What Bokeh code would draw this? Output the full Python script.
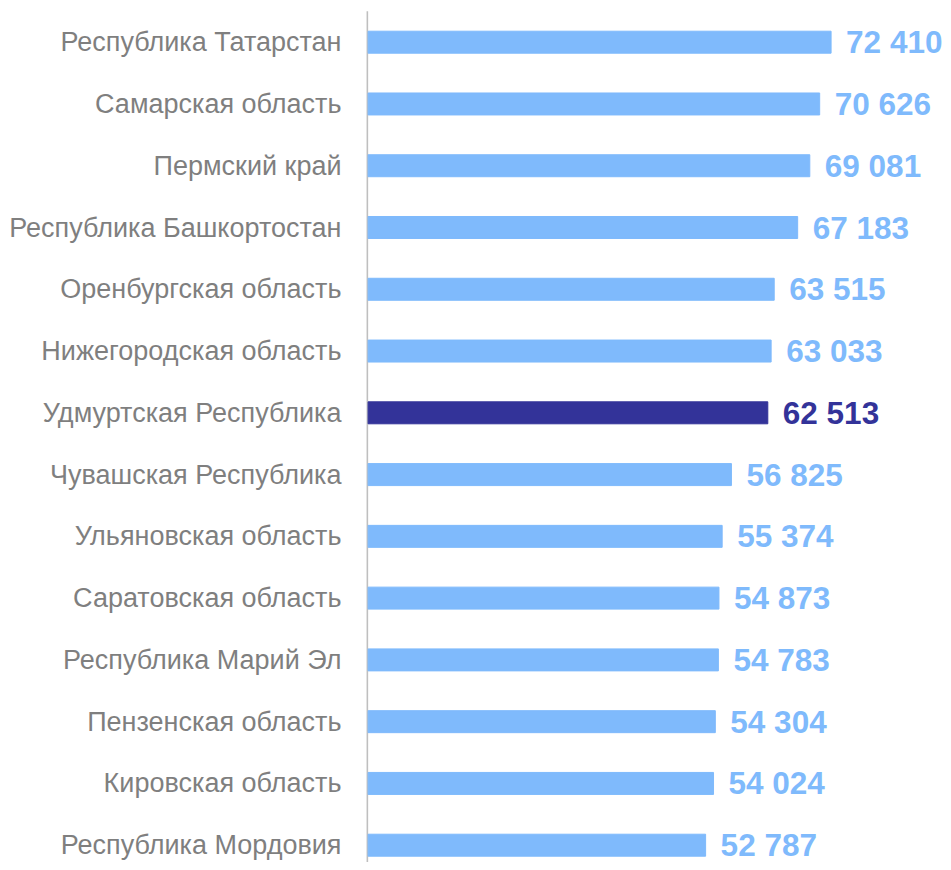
from bokeh.plotting import figure
from bokeh.models import Range1d, FixedTicker, ColumnDataSource
from bokeh.core.properties import value
from bokeh.embed import file_html
from bokeh.resources import INLINE

regions = [
    "Республика Татарстан",
    "Самарская область",
    "Пермский край",
    "Республика Башкортостан",
    "Оренбургская область",
    "Нижегородская область",
    "Удмуртская Республика",
    "Чувашская Республика",
    "Ульяновская область",
    "Саратовская область",
    "Республика Марий Эл",
    "Пензенская область",
    "Кировская область",
    "Республика Мордовия",
]
values = [72410, 70626, 69081, 67183, 63515, 63033, 62513,
          56825, 55374, 54873, 54783, 54304, 54024, 52787]
highlight = "Удмуртская Республика"

LIGHT = "#7FBAFC"
DARK = "#333399"

n = len(regions)
ypos = [n - 1 - i for i in range(n)]
colors = [DARK if r == highlight else LIGHT for r in regions]
labels = [f"{v:,}".replace(",", " ") for v in values]

src = ColumnDataSource(dict(y=ypos, v=values, c=colors, lab=labels))

W, H = 943, 862
left = 366
frame_w = W - left
scale = 0.006394  # px per unit
x_start = -250
x_end = x_start + frame_w / scale
y_lo, y_hi = -0.28, 13.675

p = figure(width=W, height=H, output_backend="svg", toolbar_location=None,
           x_range=Range1d(x_start, x_end), y_range=Range1d(y_lo, y_hi),
           min_border_left=left, min_border_right=0, min_border_top=0,
           min_border_bottom=0)
p.outline_line_color = None
p.grid.grid_line_color = None
p.xaxis.visible = False
p.background_fill_color = "white"

# vertical axis line (category axis)
p.segment(x0=[-150], x1=[-150], y0=[y_lo], y1=[n - 0.5],
          line_color="#BFBFBF", line_width=2)

p.hbar(y="y", left=0, right="v", height=0.356, color="c", source=src)

p.text(x="v", y="y", text="lab", source=src, x_offset=15,
       text_color="c", text_font=value("Liberation Sans"),
       text_font_style="bold", text_font_size="31.5px",
       text_baseline="middle", text_align="left")

ya = p.yaxis[0]
ya.ticker = FixedTicker(ticks=ypos)
ya.major_label_overrides = {y: r for y, r in zip(ypos, regions)}
ya.major_tick_line_color = None
ya.minor_tick_line_color = None
ya.axis_line_color = None
ya.major_label_text_font = "Liberation Sans"
ya.major_label_text_font_size = "27px"
ya.major_label_text_color = "#7F7F7F"
ya.major_label_standoff = 19

open("out.html", "w").write(file_html(p, INLINE))
